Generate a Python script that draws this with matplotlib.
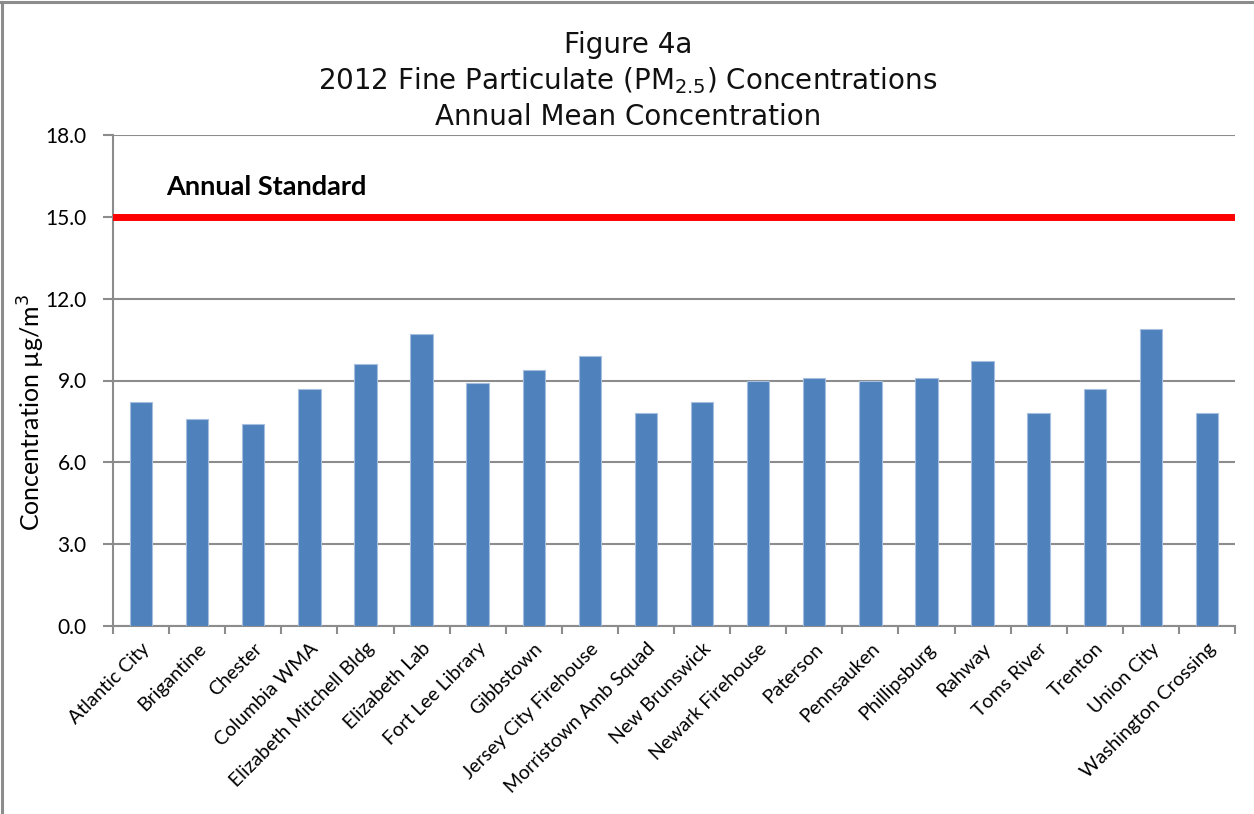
import matplotlib
matplotlib.use("Agg")
import matplotlib.pyplot as plt
from matplotlib.lines import Line2D
import numpy as np

sites = ["Atlantic City", "Brigantine", "Chester", "Columbia WMA",
         "Elizabeth Mitchell Bldg", "Elizabeth Lab", "Fort Lee Library",
         "Gibbstown", "Jersey City Firehouse", "Morristown Amb Squad",
         "New Brunswick", "Newark Firehouse", "Paterson", "Pennsauken",
         "Phillipsburg", "Rahway", "Toms River", "Trenton", "Union City",
         "Washington Crossing"]
values = [8.2, 7.6, 7.4, 8.7, 9.6, 10.7, 8.9, 9.4, 9.9, 7.8,
          8.2, 9.0, 9.1, 9.0, 9.1, 9.7, 7.8, 8.7, 10.9, 7.8]
standard = 15.0
yticks = [0, 3, 6, 9, 12, 15, 18]

W, H = 1254, 814
fig = plt.figure(figsize=(W / 100, H / 100), dpi=100)
ax = fig.add_axes([113 / W, 1 - 626 / H, (1235 - 113) / W, (626 - 135) / H])

x = np.arange(len(sites))
ax.bar(x, values, width=0.4, color="#4f81bd", edgecolor="#a7bfdf", linewidth=0.8, zorder=3)
ax.axhline(standard, color="#ff0000", linewidth=5, zorder=4)

ax.set_xlim(-0.5, len(sites) - 0.5)
ax.set_ylim(0, 18)
ax.set_yticks(yticks)
ax.set_yticklabels([f"{v:.1f}" for v in yticks], fontsize=15, family="Lato")
ax.grid(axis="y", color="#8c8c8c", linewidth=1.5, zorder=0)

ax.set_xticks(x)
ax.set_xticklabels(sites, rotation=45, ha="right", va="top", rotation_mode="anchor",
                   fontsize=14, family="Lato")
ax.set_xticks(np.arange(-0.5, len(sites), 1), minor=True)
ax.tick_params(axis="x", which="major", length=0, pad=10)
ax.tick_params(axis="x", which="minor", length=6, width=1.5, color="#8c8c8c")
ax.tick_params(axis="y", length=7, width=1.5, color="#8c8c8c", pad=12)

for s in ["top", "right"]:
    ax.spines[s].set_visible(False)
for s in ["left", "bottom"]:
    ax.spines[s].set_color("#8c8c8c")
    ax.spines[s].set_linewidth(1.5)

ax.text(166 / W, 1 - 187 / H, "Annual Standard", transform=fig.transFigure,
        fontsize=19.5, fontweight="bold", family="Lato", va="center", ha="left")

fig.text(31 / W, 1 - 413 / H, "Concentration µg/m$^3$", rotation=90, fontsize=18,
         family="Lato", ha="center", va="center")

title_kw = dict(ha="center", va="center", fontsize=20, family="DejaVu Sans", color="#111111")
fig.text(628 / W, 1 - 45 / H, "Figure 4a", **title_kw)
fig.text(628 / W, 1 - 81 / H, "2012 Fine Particulate (PM$_{2.5}$) Concentrations", **title_kw)
fig.text(628 / W, 1 - 117 / H, "Annual Mean Concentration", **title_kw)

# border (top and left)
fig.add_artist(Line2D([1.5 / W, 1.5 / W], [0, 1 - 1.5 / H], transform=fig.transFigure,
                      color="#8c8c8c", linewidth=2.2))
fig.add_artist(Line2D([0, 1], [1 - 2 / H, 1 - 2 / H], transform=fig.transFigure,
                      color="#8c8c8c", linewidth=2.2))

fig.savefig("out.png", dpi=100)
